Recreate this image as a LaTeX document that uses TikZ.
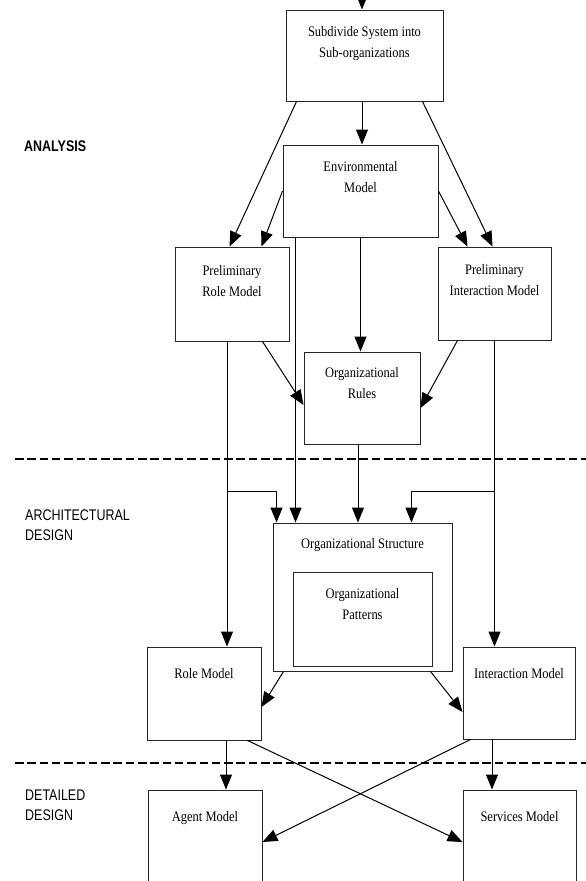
\documentclass[tikz,border=0pt]{standalone}
\usepackage{fontspec}
\usetikzlibrary{arrows.meta,calc}
\newfontfamily\nodefont[FakeStretch=0.86]{Liberation Serif}
\newfontfamily\labfont[FakeStretch=0.81]{Liberation Sans}
\begin{document}
\begin{tikzpicture}[x=1pt,y=-1pt,
  box/.style={draw=black!85,line width=0.95pt,rectangle,inner sep=0pt},
  txt/.style={font=\nodefont\fontsize{14.5}{20.5}\selectfont,align=center,inner sep=0pt,anchor=north},
  lab/.style={font=\labfont\fontsize{15.4}{20.5}\selectfont,align=left,inner sep=0pt,anchor=base west},
  arr/.style={draw=black,line width=1pt,-{Triangle[length=15pt,width=12pt]}},
  sep/.style={draw=black,line width=2.8pt,dash pattern=on 8.5pt off 3.8pt}]
\useasboundingbox (0,0) rectangle (586,881);
\clip (0,0) rectangle (586,881);
\fill[white] (0,0) rectangle (586,881);

% boxes
\node[box,minimum width=157pt,minimum height=91pt] (sub) at (364.5,55.5) {};
\node[box,minimum width=155pt,minimum height=92pt] (env) at (360.5,191) {};
\node[box,minimum width=114pt,minimum height=94pt] (prm) at (232,294) {};
\node[box,minimum width=113pt,minimum height=93pt] (pim) at (494.5,293.5) {};
\node[box,minimum width=116pt,minimum height=92pt] (rules) at (362,398) {};
\node[box,minimum width=179pt,minimum height=148pt] (os) at (362.5,597) {};
\node[box,minimum width=139pt,minimum height=94pt] (pat) at (362.5,619) {};
\node[box,minimum width=114pt,minimum height=93pt] (rm) at (204,693.5) {};
\node[box,minimum width=112pt,minimum height=92pt] (im) at (519,693) {};
\node[box,minimum width=114pt,minimum height=120pt] (am) at (205,850) {};
\node[box,minimum width=113pt,minimum height=120pt] (sm) at (519.5,850) {};

% texts
\node[txt] (tsub) at ([yshift=-17pt]sub.north) {Subdivide System into\\Sub-organizations};
\node[txt] (tenv) at ([yshift=-17pt]env.north) {Environmental\\Model};
\node[txt] (tprm) at ([yshift=-19pt]prm.north) {Preliminary\\Role Model};
\node[txt] (tpim) at ([yshift=-18pt]pim.north) {Preliminary\\Interaction Model};
\node[txt] (trules) at ([yshift=-16pt]rules.north) {Organizational\\Rules};
\node[txt] (tos) at ([yshift=-16pt]os.north) {Organizational Structure};
\node[txt] (tpat) at ([yshift=-17pt]pat.north) {Organizational\\Patterns};
\node[txt] (trm) at ([yshift=-22pt]rm.north) {Role Model};
\node[txt] (tim) at ([yshift=-22pt]im.north) {Interaction Model};
\node[txt] (tam) at ([yshift=-22pt]am.north) {Agent Model};
\node[txt] (tsm) at ([yshift=-22pt]sm.north) {Services Model};

% phase labels (base = baseline of last line)
\node[lab] (lana) at (24,151) {\bfseries ANALYSIS};
\node[lab] (larch) at (25,540.5) {ARCHITECTURAL\\DESIGN};
\node[lab] (ldet) at (25,820.5) {DETAILED\\DESIGN};

% separators
\coordinate (d1a) at (15,459); \coordinate (d1b) at (590,459);
\coordinate (d2a) at (15,763); \coordinate (d2b) at (590,763);
\draw[sep] (d1a) -- (d1b);
\draw[sep] (d2a) -- (d2b);

% connectors
\coordinate (topin) at (362,-8);
\draw[arr] (topin) -- ([xshift=-2.5pt]sub.north);
\draw[arr] ([xshift=-2.5pt]sub.south) -- ([xshift=-2.5pt]sub.south |- env.north);
\draw[arr] ([xshift=11pt]sub.south west) -- ([xshift=55pt]prm.north west);
\draw[arr] (env.west) -- ([xshift=87pt]prm.north west);
\draw[arr] ([xshift=-21pt]sub.south east) -- ([xshift=55pt]pim.north west);
\draw[arr] (env.east) -- ([xshift=30pt]pim.north west);
\draw[arr] (env.south) -- (env.south |- rules.north);
\draw[arr] ([xshift=-27pt]prm.south east) -- ([yshift=-7pt]rules.west);
\draw[arr] ([xshift=20pt]pim.south west) -- ([yshift=-10pt]rules.east);

\coordinate (p1) at ([xshift=-5pt]prm.south);
\draw[arr] (p1) -- (p1 |- rm.north);
\coordinate (brL) at (227,491);
\draw[arr] (brL) -| ([xshift=4pt]os.north west);
\coordinate (e1) at ([xshift=13pt]env.south west);
\draw[arr] (e1) -- (e1 |- os.north);
\coordinate (r1) at ([xshift=-4pt]rules.south);
\draw[arr] (r1) -- (r1 |- os.north);
\draw[arr] (pim.south) -- (pim.south |- im.north);
\coordinate (brR) at (494.5,491);
\draw[arr] (brR) -| ([xshift=-41pt]os.north east);

\draw[arr] ([xshift=11pt]os.south west) -- ([yshift=-13.5pt]rm.east);
\draw[arr] ([xshift=-22pt]os.south east) -- ([yshift=-19pt]im.west);
\coordinate (rmb) at ([xshift=22pt]rm.south);
\draw[arr] (rmb) -- (rmb |- am.north);
\coordinate (imb) at ([xshift=-27pt]im.south);
\draw[arr] (imb) -- (imb |- sm.north);
\draw[arr] ([xshift=-14pt]rm.south east) -- ([yshift=8pt]sm.west);
\draw[arr] ([xshift=8pt]im.south west) -- ([yshift=8pt]am.east);
\end{tikzpicture}
\end{document}
